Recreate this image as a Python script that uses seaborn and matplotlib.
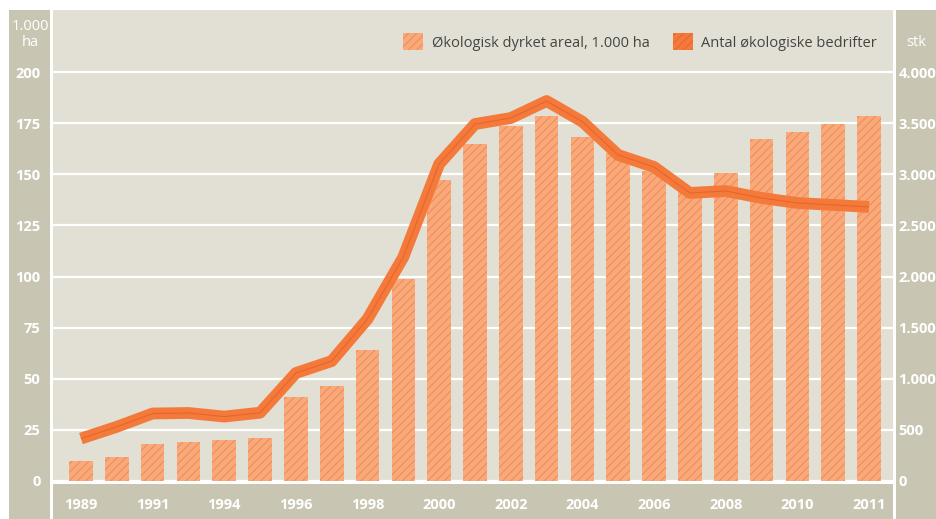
import numpy as np
import pandas as pd
import matplotlib
matplotlib.use("Agg")
import matplotlib.pyplot as plt
import matplotlib.patheffects as pe
from matplotlib.patches import Patch, Rectangle
import seaborn as sns

# ---------------------------------------------------------
# DATA
# ---------------------------------------------------------
years = list(range(1989, 2012))
areal = [9.8, 11.7, 18.1, 19.1, 20.0, 21.0, 41.0, 46.5, 64.0, 99.0, 147.0,
         165.0, 173.7, 178.6, 168.2, 160.4, 151.6, 144.0, 150.6, 167.0,
         170.6, 174.6, 178.5]
bedrifter = [415, 530, 660, 665, 630, 668, 1056, 1173, 1584, 2190, 3100,
             3491, 3550, 3716, 3514, 3188, 3071, 2817, 2836, 2768, 2719,
             2700, 2680]
tick_labels = ["1989", "1991", "1994", "1996", "1998", "2000", "2002",
               "2004", "2006", "2008", "2010", "2011"]
left_ticks = [0, 25, 50, 75, 100, 125, 150, 175, 200]
right_ticks = [0, 500, 1000, 1500, 2000, 2500, 3000, 3500, 4000]
right_labels = ["0", "500", "1.000", "1.500", "2.000", "2.500", "3.000", "3.500", "4.000"]
legend_labels = ["Økologisk dyrket areal, 1.000 ha", "Antal økologiske bedrifter"]

df = pd.DataFrame({"pos": range(len(years)), "year": years,
                   "areal": areal, "bedrifter": bedrifter})

# ---------------------------------------------------------
# STYLE
# ---------------------------------------------------------
sns.set_style("white")
plt.rcParams["font.family"] = ["Open Sans", "DejaVu Sans"]
plt.rcParams["hatch.linewidth"] = 0.7

bg = "#E2E0D4"
band = "#C8C6B2"
bar_col = "#F9A97A"
bar_hatch = "#EF8A56"
line_col = "#F47A3C"
line_dark = "#EA642A"

W, H = 936, 519
fig = plt.figure(figsize=(W / 100, H / 100), dpi=100, facecolor="white")

def fx(px):
    return px / W

def fy(px):
    return 1 - px / H

# side / bottom bands (behind the axes and tick labels)
for x0, x1, ytop in [(9, 50, 10), (896, 936, 10), (53, 893, 484)]:
    fig.patches.append(Rectangle((fx(x0), 0), fx(x1) - fx(x0), fy(ytop),
                                 transform=fig.transFigure, facecolor=band,
                                 edgecolor="none", zorder=-5))

ax = fig.add_axes([fx(53), fy(481), fx(893) - fx(53), fy(10) - fy(481)])
ax.set_facecolor(bg)

# ---------------------------------------------------------
# BARS
# ---------------------------------------------------------
sns.barplot(data=df, x="pos", y="areal", color=bar_col, saturation=1,
            width=0.66, errorbar=None, ax=ax, hatch="////",
            edgecolor=bar_hatch, linewidth=0, zorder=2)

ymax = (481 - 10) / 2.045
ax.set_ylim(0, ymax)
ax.set_xlim(-0.78, 22.67)
ax.set_yticks(left_ticks)
ax.grid(axis="y", color="white", linewidth=1.6, zorder=1)
ax.grid(axis="x", visible=False)
ax.set_axisbelow(True)
for s in ax.spines.values():
    s.set_visible(False)

ax.set_xticks(range(0, 23, 2))
ax.set_xticklabels(tick_labels)
ax.tick_params(axis="x", length=0, pad=12, colors="white", labelsize=10.5)
ax.tick_params(axis="y", length=0, pad=9, colors="white", labelsize=10.5)
for lab in ax.get_xticklabels() + ax.get_yticklabels():
    lab.set_fontweight("bold")
ax.set_xlabel("")
ax.set_ylabel("")

# ---------------------------------------------------------
# LINE (right axis)
# ---------------------------------------------------------
ax2 = ax.twinx()
sns.lineplot(data=df, x="pos", y="bedrifter", ax=ax2, color=line_dark,
             linewidth=0.8, zorder=3, solid_capstyle="butt",
             path_effects=[pe.Stroke(linewidth=8.5, foreground=line_col,
                                     capstyle="butt"),
                           pe.Normal()])
ax2.set_ylim(0, ymax * 20)
ax2.set_xlim(-0.78, 22.67)
ax2.set_yticks(right_ticks)
ax2.set_yticklabels(right_labels)
ax2.tick_params(axis="y", length=0, pad=4, colors="white", labelsize=10.5)
for lab in ax2.get_yticklabels():
    lab.set_fontweight("bold")
ax2.set_ylabel("")
ax2.set_xlabel("")
ax2.grid(False)
for s in ax2.spines.values():
    s.set_visible(False)

# unit labels
fig.text(fx(30), fy(27), "1.000", color="white", fontsize=10.5, ha="center", va="center")
fig.text(fx(30), fy(43), "ha", color="white", fontsize=10.5, ha="center", va="center")
fig.text(fx(916), fy(42), "stk", color="white", fontsize=10.5, ha="center", va="center")

# legend
handles = [Patch(facecolor=bar_col, edgecolor=bar_hatch, hatch="////", linewidth=0),
           Patch(facecolor=line_col, edgecolor=line_dark, hatch="////", linewidth=0)]
leg = ax2.legend(handles, legend_labels, ncol=2, frameon=False, fontsize=10.5,
                 loc="center right", bbox_to_anchor=(fx(877), fy(42)),
                 bbox_transform=fig.transFigure, borderpad=0, borderaxespad=0,
                 handlelength=1.35, handleheight=1.35, handletextpad=0.6,
                 columnspacing=1.6)
for t in leg.get_texts():
    t.set_color("#444444")

fig.savefig("out.png", dpi=100, facecolor="white")
